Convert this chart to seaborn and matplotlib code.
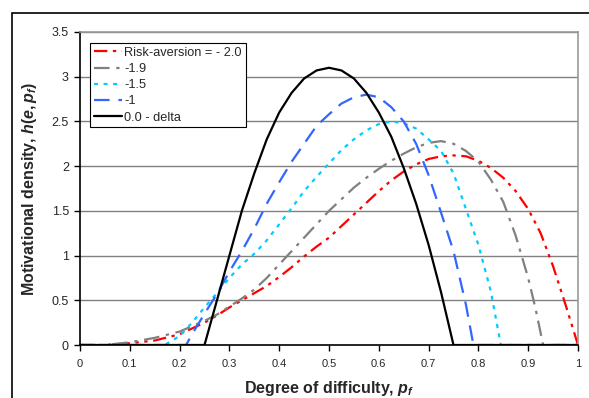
import numpy as np
import pandas as pd
import matplotlib
matplotlib.use("Agg")
import matplotlib.pyplot as plt
import seaborn as sns
from matplotlib.patches import Rectangle

# Data
x_ra20 = [0.0, 0.05, 0.1, 0.15, 0.2, 0.25, 0.275, 0.3, 0.325, 0.35, 0.375, 0.4, 0.425, 0.45,
          0.475, 0.5, 0.525, 0.55, 0.575, 0.6, 0.625, 0.65, 0.675, 0.7, 0.725, 0.75,
          0.775, 0.8, 0.825, 0.85, 0.875, 0.9, 0.925, 0.95, 0.975, 1.0]
y_ra20 = [0.0, 0.0, 0.02, 0.05, 0.12, 0.25, 0.33, 0.42, 0.5, 0.58, 0.66, 0.76, 0.87, 0.99,
          1.1, 1.2, 1.33, 1.46, 1.59, 1.72, 1.84, 1.94, 2.02, 2.08, 2.11, 2.12,
          2.11, 2.06, 1.98, 1.87, 1.72, 1.52, 1.25, 0.88, 0.45, 0.0]

x_ra19 = [0.0, 0.05, 0.1, 0.15, 0.2, 0.25, 0.275, 0.3, 0.325, 0.35, 0.375, 0.4, 0.425, 0.45,
          0.475, 0.5, 0.525, 0.55, 0.575, 0.6, 0.625, 0.65, 0.675, 0.7, 0.725, 0.75,
          0.775, 0.8, 0.825, 0.85, 0.875, 0.9, 0.915, 0.93, 1.0]
y_ra19 = [0.0, 0.0, 0.03, 0.08, 0.15, 0.27, 0.34, 0.43, 0.52, 0.62, 0.75, 0.9, 1.05, 1.2,
          1.35, 1.5, 1.63, 1.76, 1.87, 1.97, 2.06, 2.14, 2.21, 2.26, 2.28, 2.25,
          2.17, 2.05, 1.85, 1.6, 1.22, 0.75, 0.4, 0.0, 0.0]

x_ra15 = [0.0, 0.17, 0.2, 0.225, 0.25, 0.275, 0.3, 0.325, 0.35, 0.375, 0.4, 0.425, 0.45,
          0.475, 0.5, 0.525, 0.55, 0.575, 0.6, 0.625, 0.65, 0.675, 0.7, 0.725, 0.75,
          0.775, 0.8, 0.825, 0.845, 1.0]
y_ra15 = [0.0, 0.0, 0.1, 0.25, 0.42, 0.58, 0.75, 0.9, 1.02, 1.17, 1.35, 1.53, 1.72,
          1.88, 2.03, 2.18, 2.3, 2.4, 2.47, 2.5, 2.48, 2.42, 2.3, 2.17, 1.92,
          1.52, 1.12, 0.6, 0.0, 0.0]

x_ra10 = [0.0, 0.213, 0.225, 0.25, 0.275, 0.3, 0.325, 0.35, 0.375, 0.4, 0.425, 0.45, 0.475,
          0.5, 0.525, 0.55, 0.575, 0.6, 0.625, 0.65, 0.675, 0.7, 0.725, 0.75, 0.775,
          0.79, 1.0]
y_ra10 = [0.0, 0.0, 0.12, 0.35, 0.57, 0.82, 1.05, 1.3, 1.58, 1.82, 2.05, 2.25, 2.45,
          2.58, 2.7, 2.77, 2.8, 2.77, 2.66, 2.5, 2.25, 1.9, 1.48, 1.05, 0.45,
          0.0, 0.0]

x_delta = [0.0, 0.25, 0.275, 0.3, 0.325, 0.35, 0.375, 0.4, 0.425, 0.45, 0.475, 0.5,
           0.525, 0.55, 0.575, 0.6, 0.625, 0.65, 0.675, 0.7, 0.725, 0.75, 1.0]
y_delta = [0.0, 0.0, 0.5, 1.0, 1.5, 1.92, 2.3, 2.6, 2.82, 2.98, 3.07, 3.1,
           3.07, 2.98, 2.82, 2.6, 2.33, 1.98, 1.58, 1.12, 0.59, 0.0, 0.0]

labels = ["Risk-aversion = - 2.0", "-1.9", "-1.5", "-1", "0.0 - delta"]
x_ticks = [0, 0.1, 0.2, 0.3, 0.4, 0.5, 0.6, 0.7, 0.8, 0.9, 1]
y_ticks = [0, 0.5, 1, 1.5, 2, 2.5, 3, 3.5]

sns.set_style("white")
plt.rcParams.update({
    "font.family": ["Liberation Sans", "DejaVu Sans"],
    "mathtext.fontset": "custom",
    "mathtext.it": "Liberation Sans:italic:bold",
    "mathtext.rm": "Liberation Sans:bold",
})

fig = plt.figure(figsize=(5.89, 3.98), dpi=100)
ax = fig.add_axes([80 / 589, 53 / 398, 498 / 589, 313 / 398])

# outer chart frame (partly cut off in the reference)
fig.patches.append(Rectangle((12 / 589, -0.05), 1.2, 1 - 13 / 398 + 0.05,
                             transform=fig.transFigure, fill=False,
                             edgecolor="black", linewidth=1.2))

for yv in y_ticks[1:]:
    ax.axhline(yv, color="#808080", linewidth=1.0, zorder=0)

series = [
    (x_ra20, y_ra20, "#ff0000", (0, (6, 2.5, 1.5, 2.5, 1.5, 2.5))),
    (x_ra19, y_ra19, "#808080", (0, (7, 3, 1.5, 3))),
    (x_ra15, y_ra15, "#00ccff", (0, (1.8, 2.5))),
    (x_ra10, y_ra10, "#3366ff", (0, (7, 4))),
    (x_delta, y_delta, "#000000", "-"),
]
for (xs, ys, col, ls), lab in zip(series, labels):
    df = pd.DataFrame({"x": xs, "y": ys})
    sns.lineplot(data=df, x="x", y="y", ax=ax, color=col, linewidth=1.6,
                 linestyle=ls, label=lab, sort=False)

ax.set_xlim(0, 1)
ax.set_ylim(0, 3.5)
ax.set_xticks(x_ticks)
ax.set_xticklabels([f"{v:g}" for v in x_ticks], fontsize=8)
ax.set_yticks(y_ticks)
ax.set_yticklabels([f"{v:g}" for v in y_ticks], fontsize=9)
ax.tick_params(axis="both", direction="out", length=4, width=1, color="black",
               bottom=True, left=True, pad=4)
ax.tick_params(axis="x", pad=6)

for side in ["top", "right"]:
    ax.spines[side].set_color("#999999")
    ax.spines[side].set_linewidth(1.2)
for side in ["left", "bottom"]:
    ax.spines[side].set_color("black")
    ax.spines[side].set_linewidth(1.2)

ax.set_xlabel(r"Degree of difficulty, $p_f$", fontsize=11.5, fontweight="bold", labelpad=7)
ax.set_ylabel(r"Motivational density, $h(e,p_f)$", fontsize=11.5, fontweight="bold", labelpad=9)

leg = ax.legend(loc="upper left", bbox_to_anchor=(0.02, 0.965), fontsize=9.2,
                frameon=True, fancybox=False, framealpha=1, edgecolor="black",
                handlelength=2.2, handletextpad=0.2, borderpad=0.3,
                labelspacing=0.33, borderaxespad=0)
leg.get_frame().set_linewidth(0.8)

fig.savefig("out.png", dpi=100)
